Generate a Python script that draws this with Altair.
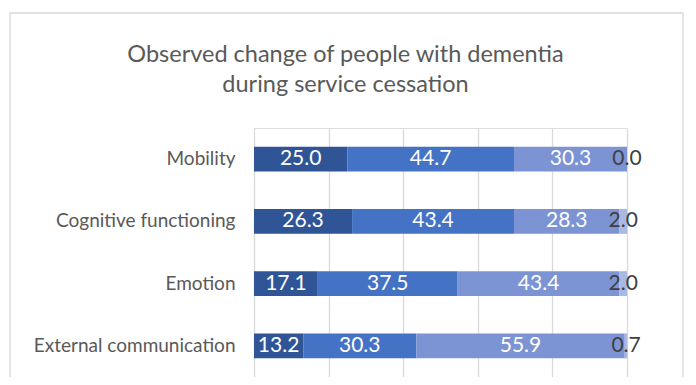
import altair as alt
import pandas as pd

categories = ["Mobility", "Cognitive functioning", "Emotion", "External communication"]
segments = ["s1", "s2", "s3", "s4"]
values = {
    "s1": [25.0, 26.3, 17.1, 13.2],
    "s2": [44.7, 43.4, 37.5, 30.3],
    "s3": [30.3, 28.3, 43.4, 55.9],
    "s4": [0.0, 2.0, 2.0, 0.7],
}
colors = ["#2F5597", "#4472C4", "#7C94D3", "#A9B9E4"]
title_lines = ["Observed change of people with dementia", "during service cessation"]

rows = []
for i, cat in enumerate(categories):
    start = 0.0
    for s in segments:
        v = values[s][i]
        rows.append({"category": cat, "segment": s, "value": v,
                     "start": start, "end": start + v, "mid": start + v / 2,
                     "label": f"{v:.1f}"})
        start += v
df = pd.DataFrame(rows)

FONT = "Lato"

y_enc = alt.Y("category:N", sort=categories, title=None,
              scale=alt.Scale(paddingInner=0.6, paddingOuter=0.3),
              axis=alt.Axis(ticks=False, domain=False, labelFontSize=19, labelLimit=400,
                            labelColor="#595959", labelPadding=19, labelFont=FONT))
x_scale = alt.Scale(domain=[0, 100], nice=False)

bars = alt.Chart(df).mark_bar().encode(
    x=alt.X("start:Q", scale=x_scale, title=None,
            axis=alt.Axis(values=[0, 20, 40, 60, 80, 100], labels=False, ticks=False,
                          domain=False, grid=True, gridColor="#D9D9D9", gridWidth=1.3)),
    x2="end:Q",
    y=y_enc,
    color=alt.Color("segment:N", scale=alt.Scale(domain=segments, range=colors), legend=None),
)

texts = alt.Chart(df).mark_text(fontSize=21, font=FONT, baseline="middle", align="center").encode(
    x=alt.X("mid:Q", scale=x_scale),
    y=alt.Y("category:N", sort=categories),
    text="label:N",
    color=alt.condition(alt.datum.segment == "s4", alt.value("#404040"), alt.value("#FFFFFF")),
)

frame = alt.Chart(pd.DataFrame({"a": [0]})).mark_rect(
    fill=None, stroke="#D9D9D9", strokeWidth=1.3, clip=False
).encode(x=alt.value(-244), x2=alt.value(429), y=alt.value(-115), y2=alt.value(280))

chart = alt.layer(frame, bars, texts).properties(
    width=373, height=249,
    title=alt.TitleParams(text=title_lines, fontSize=23.5, font=FONT, fontWeight="normal",
                          color="#595959", anchor="middle", frame="group",
                          dx=-95, dy=116, offset=32, lineHeight=30),
    autosize=alt.AutoSizeParams(type="none"),
    padding={"left": 246, "top": 120, "right": 61, "bottom": 0},
).configure_view(stroke=None).configure(background="white")

chart.save("out.html", embed_options={"renderer": "svg", "actions": False})
